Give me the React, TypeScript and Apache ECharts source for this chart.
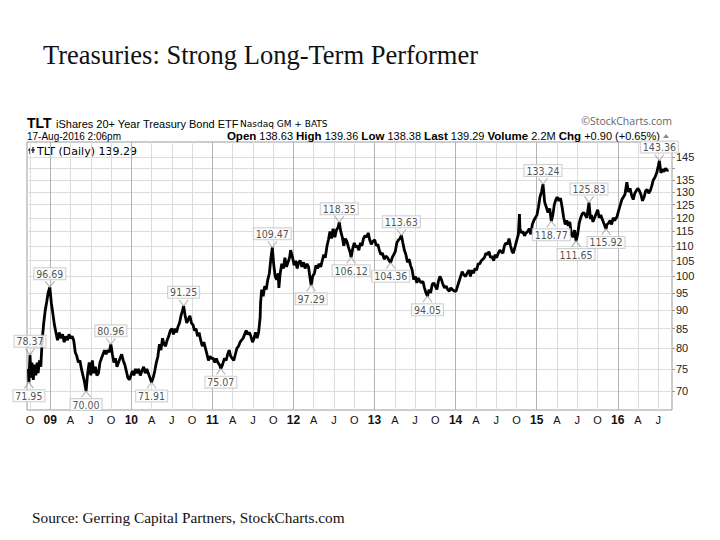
import React, { useEffect, useRef } from "react";
import * as echarts from "echarts";

// ---- price data (weekly readings, TLT daily chart) ----
const p2008: [string, number][] = [["09-24",75],["09-26",71.95],["10-01",78.37],["10-06",73],["10-10",76.5],["10-16",72.5],["10-22",76],["10-28",73.5],["11-03",76.5],["11-07",74],["11-13",77],["11-19",75.5],["11-25",82],["12-02",86.5],["12-09",90],["12-16",92.5],["12-22",95],["12-30",96.69]];
const p2009: [string, number][] = [["01-06",92],["01-12",89.5],["01-20",86],["01-27",84],["02-03",82],["02-10",84],["02-17",82.5],["02-24",83.5],["03-03",81.5],["03-10",83],["03-18",82],["03-25",83.5],["04-01",82.5],["04-08",83],["04-15",82],["04-22",79],["04-29",78],["05-06",76.5],["05-13",77],["05-20",75],["05-27",73.5],["06-03",72],["06-10",70.0],["06-17",74],["06-24",76.5],["07-01",73.5],["07-08",77],["07-15",74],["07-22",75.5],["07-29",73.5],["08-05",74],["08-12",76.5],["08-19",77.5],["08-26",78.5],["09-02",79.5],["09-09",78.5],["09-16",79.5],["09-23",79],["09-30",80.96],["10-07",78.5],["10-14",76.5],["10-21",77.5],["10-28",75.5],["11-04",76.5],["11-11",77.5],["11-18",78.5],["11-25",77],["12-02",76],["12-09",74.5],["12-16",73],["12-23",72.5],["12-30",73.5]];
const p2010: [string, number][] = [["01-06",74.5],["01-13",73.5],["01-20",75],["01-27",74],["02-03",75],["02-10",73.5],["02-17",74.5],["02-24",75.5],["03-03",74],["03-10",75],["03-17",74],["03-24",73],["04-01",71.91],["04-08",73],["04-15",74.5],["04-22",76.5],["04-29",78],["05-06",81],["05-13",79.5],["05-20",82.5],["05-27",81],["06-03",80.5],["06-10",82],["06-17",83],["06-24",84.5],["07-01",85],["07-08",83.5],["07-15",85],["07-22",84],["07-29",85.5],["08-05",86.5],["08-12",88.5],["08-19",90],["08-24",91.25],["08-31",88.5],["09-07",86.5],["09-14",87.5],["09-21",88.5],["09-28",86.5],["10-05",86],["10-12",84.5],["10-19",85],["10-26",83],["11-02",84],["11-09",82],["11-16",80.5],["11-23",81.5],["11-30",80],["12-07",78.5],["12-14",77],["12-21",78],["12-28",77.5]];
const p2011: [string, number][] = [["01-05",77.5],["01-12",76.5],["01-19",77.5],["01-26",76.5],["02-02",76],["02-08",75.07],["02-15",76],["02-23",77.5],["03-02",77],["03-09",78.5],["03-16",79.5],["03-23",78],["03-30",77.5],["04-06",77],["04-13",78.5],["04-20",80],["04-27",80.5],["05-04",81.5],["05-11",82],["05-18",82.5],["05-25",83.5],["06-01",84.5],["06-08",83.5],["06-15",84],["06-22",83],["06-29",81.5],["07-06",82.5],["07-13",84],["07-20",82.5],["07-27",84],["08-03",88],["08-05",92],["08-10",96],["08-17",94],["08-24",97],["08-31",96],["09-07",99],["09-14",101],["09-21",106],["09-27",109.47],["10-03",104],["10-10",100],["10-17",99],["10-24",101],["10-27",96.5],["11-02",101],["11-09",104],["11-16",102.5],["11-23",106],["11-30",103],["12-07",104.5],["12-14",106],["12-19",108.5],["12-28",106]];
const p2012: [string, number][] = [["01-04",103.5],["01-11",105],["01-18",102.5],["01-25",104.5],["02-01",105],["02-08",103],["02-15",104.5],["02-22",102.5],["03-01",104],["03-08",103],["03-14",100],["03-20",97.29],["03-27",100],["04-04",101],["04-11",103.5],["04-18",102.5],["04-25",104],["05-02",103],["05-09",105],["05-16",107],["05-23",106],["05-31",110],["06-06",112],["06-13",115],["06-20",112.5],["06-27",116],["07-05",113],["07-12",115.5],["07-20",116.5],["07-25",118.35],["08-01",115],["08-08",113],["08-15",110],["08-22",112.5],["08-29",111.5],["09-05",109.5],["09-12",108],["09-17",106.12],["09-24",109],["10-01",111],["10-08",109.5],["10-15",110],["10-22",108.5],["10-29",111],["11-05",110],["11-12",112.5],["11-19",113.5],["11-26",113],["12-03",114.5],["12-10",112],["12-17",110.5],["12-24",111.5]];
const p2013: [string, number][] = [["01-02",112],["01-09",110],["01-16",110.5],["01-23",108.5],["01-30",107],["02-06",107.5],["02-13",105.5],["02-20",106.5],["02-27",106],["03-06",105],["03-13",104.36],["03-20",106],["03-27",107],["04-03",108],["04-10",111],["04-17",112],["04-24",112.5],["04-30",113.63],["05-07",111],["05-14",108.5],["05-21",107],["05-28",104.5],["06-04",105.5],["06-11",103.5],["06-18",102],["06-25",99],["07-02",100],["07-09",98],["07-16",99.5],["07-23",98.5],["07-30",98],["08-06",98.5],["08-13",96.5],["08-20",95],["08-27",94.05],["09-03",96],["09-10",95],["09-17",97.5],["09-24",98],["10-01",97],["10-08",96],["10-15",98.5],["10-22",100],["10-29",99],["11-05",97.5],["11-12",96.5],["11-19",97],["11-26",96],["12-03",95.5],["12-10",96.5],["12-17",96],["12-27",95.5]];
const p2014: [string, number][] = [["01-03",95.5],["01-10",97],["01-17",98.5],["01-24",100],["01-31",101.5],["02-07",100.5],["02-14",100],["02-21",101],["02-28",102],["03-07",100],["03-14",102],["03-21",101],["03-28",102.5],["04-04",102],["04-11",104],["04-18",104],["04-25",105],["05-02",105.5],["05-09",106],["05-16",107.5],["05-23",107],["05-30",108],["06-06",106],["06-13",106.5],["06-20",105],["06-27",107],["07-03",106],["07-11",107.5],["07-18",108.5],["07-25",108],["08-01",107.5],["08-08",110],["08-15",111],["08-22",110.5],["08-29",112.5],["09-05",110],["09-12",108],["09-17",107.5],["09-26",110],["10-03",112],["10-10",114],["10-15",121.4],["10-17",116],["10-24",114.5],["10-31",115],["11-07",113.5],["11-14",114.5],["11-21",115],["11-28",116],["12-05",114],["12-12",117.5],["12-19",119],["12-26",120]];
const p2015: [string, number][] = [["01-02",121],["01-09",124],["01-16",128],["01-23",130],["01-30",133.24],["02-06",126],["02-13",124],["02-20",122],["02-27",123.5],["03-06",118.77],["03-13",121],["03-20",125],["03-27",127],["04-02",128],["04-10",126.5],["04-17",127.5],["04-24",124],["05-01",120],["05-08",117.5],["05-15",119],["05-22",117],["05-29",118.5],["06-05",114],["06-12",113],["06-19",115.5],["06-26",111.65],["07-03",114],["07-10",118],["07-17",120],["07-24",121.5],["07-31",122],["08-07",121],["08-14",120],["08-24",125.83],["08-31",119.5],["09-04",121],["09-11",118.5],["09-18",120],["09-25",121.5],["10-02",123],["10-09",120],["10-16",121],["10-23",119.5],["10-30",118],["11-09",115.92],["11-13",117.5],["11-20",118],["11-27",119],["12-04",117.5],["12-11",120],["12-18",119],["12-29",120.5]];
const p2016: [string, number][] = [["01-06",123],["01-13",125],["01-20",127],["01-27",128],["02-03",129],["02-11",134],["02-18",130],["02-25",131.5],["03-03",128.5],["03-10",127],["03-17",129.5],["03-24",130.5],["03-31",131.5],["04-07",130.5],["04-14",129],["04-21",126.5],["04-28",128],["05-05",130.5],["05-12",131],["05-19",129.5],["05-26",130.5],["06-02",132.5],["06-09",135],["06-16",136],["06-24",138],["07-01",141],["07-06",143.36],["07-13",138],["07-20",139.5],["07-27",138.5],["08-03",140],["08-10",139],["08-17",139.29]];

// ---- annotations ----
const annotDates = ["2008-10-01","2008-09-26","2008-12-30","2009-06-10","2009-09-30","2010-04-01","2010-08-24","2011-02-08","2011-09-27","2012-03-20","2012-07-25","2012-09-17","2013-03-13","2013-04-30","2013-08-27","2015-01-30","2015-03-06","2015-06-26","2015-08-24","2015-11-09","2016-07-06"];
const annotValues = [78.37,71.95,96.69,70.0,80.96,71.91,91.25,75.07,109.47,97.29,118.35,106.12,104.36,113.63,94.05,133.24,118.77,111.65,125.83,115.92,143.36];
const annotSide = ["top","bottom","top","bottom","top","bottom","top","bottom","top","bottom","top","bottom","bottom","top","bottom","top","bottom","bottom","top","bottom","top"];

const lastDate = "2016-08-17";
const lastValue = 139.29;

// ---- axes ----
const yTicks = [70,75,80,85,90,95,100,105,110,115,120,125,130,135,140,145];
const yLabelTicks = [70,75,80,85,90,95,100,105,110,115,120,125,130,135,145];
const yMinValue = 66;
const yMaxValue = 151.9;
const xTickLabels = ["O","09","A","J","O","10","A","J","O","11","A","J","O","12","A","J","O","13","A","J","O","14","A","J","O","15","A","J","O","16","A","J"];
const xFirstTickMonth = 9; // Oct 2008, months counted from Jan 2008
const xMinMonth = 8.556;
const xMaxMonth = 104.03;

const toM = (s: string) => {
  const [y, m, d] = s.split("-").map(Number);
  const dim = new Date(y, m, 0).getDate();
  return (y - 2008) * 12 + (m - 1) + (d - 1) / dim;
};
const lg = (v: number) => Math.log10(v);

export default function App() {
  const ref = useRef<HTMLDivElement>(null);
  useEffect(() => {
    if (!ref.current) return;
    const chart = echarts.init(ref.current, null, { renderer: "svg" });
    const years: [number, [string, number][]][] = [[2008,p2008],[2009,p2009],[2010,p2010],[2011,p2011],[2012,p2012],[2013,p2013],[2014,p2014],[2015,p2015],[2016,p2016]];
    const lineData: number[][] = [];
    years.forEach(([y, arr]) => arr.forEach(([md, v]) => lineData.push([toM(`${y}-${md}`), lg(v), v])));
    const peaks: number[][] = [];
    const troughs: number[][] = [];
    annotDates.forEach((d, i) => {
      const pt = [toM(d), lg(annotValues[i]), annotValues[i]];
      (annotSide[i] === "top" ? peaks : troughs).push(pt);
    });
    const xTickVals = xTickLabels.map((_, i) => xFirstTickMonth + i * 3);
    const labelFont = '"Liberation Sans Narrow", "DejaVu Sans Condensed", "Liberation Sans", sans-serif';
    const boxLabel = {
      show: true,
      formatter: (p: any) => p.data[2].toFixed(2),
      fontFamily: labelFont,
      fontSize: 10.5,
      lineHeight: 9,
      color: "#222",
      backgroundColor: "#fff",
      borderColor: "#c4c4c4",
      borderWidth: 1,
      padding: [1, 2, 1, 2],
      distance: 0,
    };
    const sans = '"Liberation Sans", Arial, sans-serif';
    chart.setOption({
      animation: false,
      backgroundColor: "#fff",
      grid: { left: 27, right: 48, top: 142, bottom: 130, show: true, borderColor: "#9a9a9a", borderWidth: 1, containLabel: false },
      xAxis: {
        type: "value",
        min: xMinMonth,
        max: xMaxMonth,
        axisLine: { show: false },
        axisTick: { show: false, customValues: xTickVals },
        splitLine: { show: true, lineStyle: { color: ["#dcdcdc", "#b4b4b4", "#dcdcdc", "#dcdcdc"], width: 1 } },
        axisLabel: {
          customValues: xTickVals,
          margin: 4,
          fontFamily: sans,
          fontSize: 11,
          color: "#111",
          formatter: (v: number) => {
            const i = Math.round((v - xFirstTickMonth) / 3);
            const t = xTickLabels[i] ?? "";
            return /\d/.test(t) ? `{b|${t}}` : t;
          },
          rich: { b: { fontFamily: sans, fontWeight: "bold", fontSize: 12, color: "#111" } },
        },
      },
      yAxis: {
        type: "value",
        position: "right",
        min: lg(yMinValue),
        max: lg(yMaxValue),
        axisLine: { show: false },
        axisTick: { show: true, length: 3, inside: false, customValues: yTicks.map(lg), lineStyle: { color: "#9a9a9a" } },
        splitLine: { show: true, lineStyle: { color: "#dcdcdc", width: 1 } },
        axisLabel: {
          customValues: yLabelTicks.map(lg),
          margin: 4,
          fontFamily: sans,
          fontSize: 11,
          color: "#222",
          formatter: (v: number) => String(Math.round(Math.pow(10, v))),
        },
      },
      series: [
        {
          type: "line",
          data: lineData,
          showSymbol: false,
          symbol: "none",
          lineStyle: { color: "#000", width: 2.8 },
          silent: true,
          z: 2,
        },
        {
          type: "scatter",
          data: peaks,
          symbol: "path://M0,0L5,7L10,0",
          symbolSize: [9, 6],
          symbolOffset: [0, -3],
          itemStyle: { color: "none", borderColor: "#a0a0a0", borderWidth: 1 },
          label: { ...boxLabel, position: "top" },
          silent: true,
          z: 3,
        },
        {
          type: "scatter",
          data: troughs,
          symbol: "path://M0,7L5,0L10,7",
          symbolSize: [9, 6],
          symbolOffset: [0, 3],
          itemStyle: { color: "none", borderColor: "#a0a0a0", borderWidth: 1 },
          label: { ...boxLabel, position: "bottom" },
          silent: true,
          z: 3,
        },
        {
          type: "scatter",
          data: [[toM(lastDate), lg(lastValue), lastValue]],
          symbol: "none",
          label: {
            show: true,
            position: "right",
            distance: 5,
            formatter: (p: any) => p.data[2].toFixed(2),
            fontFamily: sans,
            fontWeight: "bold",
            fontSize: 12,
            color: "#000",
            backgroundColor: "#fff",
            borderColor: "#000",
            borderWidth: 1,
            padding: [1, 2, 0, 2],
          },
          silent: true,
          z: 4,
        },
      ],
      graphic: [
        { type: "text", x: 43, y: 55, style: { text: "Treasuries: Strong Long-Term Performer", font: '26.5px "Liberation Serif", serif', fill: "#111", textVerticalAlign: "middle" } },
        { type: "text", x: 32, y: 517, style: { text: "Source: Gerring Capital Partners, StockCharts.com", font: '15.3px "Liberation Serif", serif', fill: "#111", textVerticalAlign: "middle" } },
        { type: "text", x: 27, y: 123, style: { text: "TLT", font: 'bold 14px "Liberation Sans", sans-serif', fill: "#000", textVerticalAlign: "middle" } },
        { type: "text", x: 56, y: 123.5, style: { text: "iShares 20+ Year Treasury Bond ETF", font: '11px "Liberation Sans", sans-serif', fill: "#000", textVerticalAlign: "middle" } },
        { type: "text", x: 240, y: 124, style: { text: "Nasdaq GM + BATS", font: '9px "DejaVu Sans", sans-serif', fill: "#000", textVerticalAlign: "middle" } },
        { type: "text", x: 672, y: 121, style: { text: "©StockCharts.com", font: '10.5px "Open Sans", sans-serif', fill: "#666", textAlign: "right", textVerticalAlign: "middle" } },
        { type: "text", x: 27, y: 136, style: { text: "17-Aug-2016 2:06pm", font: '10px "Liberation Sans", sans-serif', fill: "#000", textVerticalAlign: "middle" } },
        {
          type: "text", x: 660, y: 135.5,
          style: {
            text: "{b|Open} 138.63 {b|High} 139.36 {b|Low} 138.38 {b|Last} 139.29 {b|Volume} 2.2M {b|Chg} +0.90 (+0.65%)",
            font: '11px "Liberation Sans", sans-serif', fill: "#000", textAlign: "right", textVerticalAlign: "middle",
            rich: { b: { fontFamily: "Liberation Sans", fontWeight: "bold", fontSize: 11.5, fill: "#000" } },
          },
        },
        { type: "polygon", shape: { points: [[663, 138], [666, 134], [669, 138]] }, style: { fill: "#6f9a80" } },
        { type: "line", shape: { x1: 30, y1: 148, x2: 30, y2: 154 }, style: { stroke: "#000", lineWidth: 1.2 } },
        { type: "line", shape: { x1: 33, y1: 147, x2: 33, y2: 153 }, style: { stroke: "#000", lineWidth: 1.2 } },
        { type: "line", shape: { x1: 28, y1: 150, x2: 35, y2: 150 }, style: { stroke: "#000", lineWidth: 1 } },
        { type: "text", x: 37, y: 151, style: { text: "TLT (Daily) 139.29", font: '11px "DejaVu Sans", sans-serif', fill: "#000", textVerticalAlign: "middle" } },
      ],
    });
    return () => chart.dispose();
  }, []);
  return <div ref={ref} style={{ position: "fixed", left: 0, top: 0, width: 720, height: 540, background: "#fff" }} />;
}
